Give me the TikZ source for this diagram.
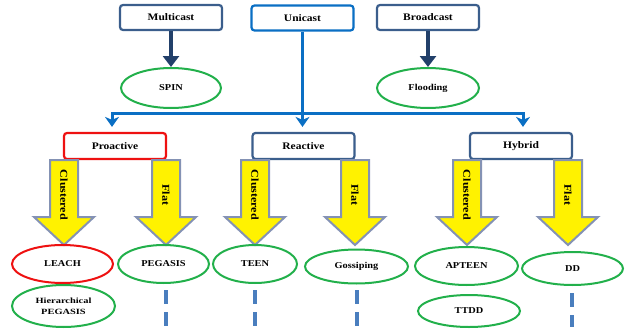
\documentclass[tikz,border=0pt]{standalone}
\usepackage{fontspec}
\usepackage{graphicx}
\setmainfont{Liberation Serif}
\usetikzlibrary{arrows.meta,shapes.geometric}
\definecolor{boxblue}{HTML}{3B5E8C}
\definecolor{uniblue}{HTML}{0A6FC4}
\definecolor{navy}{HTML}{22406A}
\definecolor{protogreen}{HTML}{22B04B}
\definecolor{protored}{HTML}{EE1111}
\definecolor{arrowedge}{HTML}{8492B4}
\definecolor{dashblue}{HTML}{4A7EBE}
\newcommand\widetxt[1]{\scalebox{1.15}[1]{#1}}
\tikzset{
  catbox/.style={draw=boxblue, line width=2.2pt, rounded corners=3pt, fill=white,
    minimum width=102pt, minimum height=26pt, inner sep=0pt,
    font=\bfseries\fontsize{10}{12}\selectfont},
  proto/.style={ellipse, draw=protogreen, line width=2pt, inner sep=0pt,
    font=\bfseries\fontsize{9}{11}\selectfont},
  navyarr/.style={draw=navy, line width=4.5pt, -{Triangle[length=11pt,width=16pt]}},
  uniline/.style={draw=uniblue, line width=3pt},
  uniarr/.style={draw=uniblue, line width=3pt, -{Stealth[length=10pt,width=14pt,inset=3pt]}},
  yellowarr/.style={draw=arrowedge, line width=2pt, fill=yellow, line join=miter},
  arrtext/.style={rotate=-90, font=\bfseries\fontsize{10.5}{12}\selectfont},
  dashbar/.style={draw=dashblue, line width=4.5pt, dash pattern=on 14pt off 8pt}
}
\newcommand\yarr[3]{%
  \draw[yellowarr] (#1-14,160) -- (#1+14,160) -- (#1+14,217) -- (#1+30,217)
     -- (#1,245) -- (#1-30,217) -- (#1-14,217) -- cycle;
  \node[arrtext] (#2) at (#1,195) {\widetxt{#3}};
}
\begin{document}
\begin{tikzpicture}[x=1pt,y=-1pt]
\useasboundingbox (0,0) rectangle (629,332);
% top level
\node[catbox, minimum height=25pt] (multi) at (171,17.5) {\widetxt{Multicast}};
\node[catbox, minimum height=25pt, draw=uniblue] (uni) at (302.5,18) {\widetxt{Unicast}};
\node[catbox, minimum height=25pt] (broad) at (428,17.5) {\widetxt{Broadcast}};
\node[proto, minimum width=100pt, minimum height=40pt] (spin) at (171,88) {\widetxt{SPIN}};
\node[proto, minimum width=102pt, minimum height=40pt] (flood) at (428,88) {\widetxt{Flooding}};
\draw[navyarr] (multi.south) -- (spin.north);
\draw[navyarr] (broad.south) -- (flood.north);
% second level
\node[catbox, draw=protored] (pro) at (115,146) {\widetxt{Proactive}};
\node[catbox] (rea) at (303.5,146) {\widetxt{Reactive}};
\node[catbox] (hyb) at (521,146) {\widetxt{Hybrid}};
\coordinate (bus) at (302.5,113);
\coordinate (busL) at (112,113);
\coordinate (busR) at (523,113);
\draw[uniline] (uni.south) -- (bus);
\draw[uniline, line cap=rect] (busL) -- (busR);
\draw[uniarr, shorten >=5pt] (busL) -- (busL |- pro.north);
\draw[uniarr, shorten >=5pt] (bus) -- (bus |- rea.north);
\draw[uniarr, shorten >=5pt] (busR) -- (busR |- hyb.north);
% yellow arrows
\yarr{64}{proC}{Clustered}
\yarr{166}{proF}{Flat}
\yarr{255}{reaC}{Clustered}
\yarr{355}{reaF}{Flat}
\yarr{467}{hybC}{Clustered}
\yarr{568}{hybF}{Flat}
% protocols
\node[proto, draw=protored, minimum width=101pt, minimum height=38pt] (leach) at (62.5,264) {\widetxt{LEACH}};
\node[proto, minimum width=103pt, minimum height=42pt, align=center,
  font=\bfseries\fontsize{8}{11}\selectfont] (hpeg) at (63.5,306) {\scalebox{1.3}[1]{Hierarchical}\\\scalebox{1.3}[1]{PEGASIS}};
\node[proto, minimum width=91pt, minimum height=38pt] (peg) at (163.5,264) {\widetxt{PEGASIS}};
\node[proto, minimum width=84pt, minimum height=38pt] (teen) at (255,264) {\widetxt{TEEN}};
\node[proto, minimum width=103pt, minimum height=34pt] (goss) at (356.5,266.5) {\widetxt{Gossiping}};
\node[proto, minimum width=103pt, minimum height=38pt] (apteen) at (466.5,266) {\widetxt{APTEEN}};
\node[proto, minimum width=102pt, minimum height=32pt] (ttdd) at (469,311) {\widetxt{TTDD}};
\node[proto, minimum width=101pt, minimum height=33pt] (dd) at (572.5,268.5) {\widetxt{DD}};
% dashes
\coordinate (d1) at (166,326);
\coordinate (d2) at (255,326);
\coordinate (d3) at (357,327);
\coordinate (d4) at (572,327);
\draw[dashbar] (166,290) -- (d1);
\draw[dashbar] (255,290) -- (d2);
\draw[dashbar] (357,290) -- (d3);
\draw[dashbar] (572,293) -- (d4);
\end{tikzpicture}
\end{document}
